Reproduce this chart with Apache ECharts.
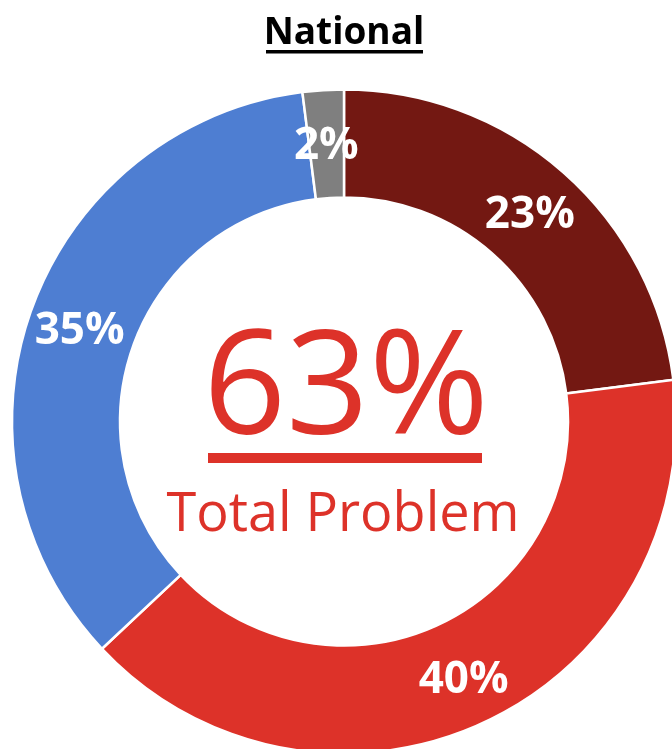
<!DOCTYPE html>
<html>
<head>
<meta charset="utf-8">
<script src="https://cdn.jsdelivr.net/npm/echarts@6/dist/echarts.min.js"></script>
<style>
  html, body { margin: 0; padding: 0; background: #ffffff; }
  #chart { width: 672px; height: 749px; }
</style>
</head>
<body>
<div id="chart"></div>
<script>
// Share of responses, clockwise from 12 o'clock
const segmentNames = ['Major problem', 'Minor problem', 'Not a problem', "Don't know"];
const segmentValues = [23, 40, 35, 2];
const segmentColors = ['#731812', '#DD3229', '#4E7ED2', '#7F7F7F'];

const chartTitle = 'National';
const totalValue = segmentValues[0] + segmentValues[1]; // 63
const totalCaption = 'Total Problem';

const FONT = '"Open Sans", "Noto Sans", sans-serif';
const cx = 344, cy = 421.5;

const chart = echarts.init(document.getElementById('chart'), null, { renderer: 'canvas' });

chart.setOption({
  backgroundColor: '#ffffff',
  animation: false,
  series: [{
    type: 'pie',
    center: [cx, cy],
    radius: [224, 332],
    startAngle: 90,
    clockwise: true,
    avoidLabelOverlap: false,
    itemStyle: { borderColor: '#ffffff', borderWidth: 2.5 },
    label: {
      show: true,
      position: 'inside',
      formatter: '{c}%',
      color: '#ffffff',
      fontFamily: FONT,
      fontWeight: 'bold',
      fontSize: 44,
      offset: [0, 5]
    },
    labelLine: { show: false },
    emphasis: { disabled: true },
    data: segmentNames.map((n, i) => ({
      name: n,
      value: segmentValues[i],
      itemStyle: { color: segmentColors[i] }
    }))
  }],
  graphic: [
    {
      type: 'text',
      style: {
        text: chartTitle,
        x: 344, y: 33,
        align: 'center', verticalAlign: 'middle',
        font: 'bold 37px ' + FONT,
        fill: '#000000'
      }
    },
    { type: 'rect', shape: { x: 266, y: 50, width: 157, height: 3.5 }, style: { fill: '#000000' } },
    {
      type: 'text',
      style: {
        text: totalValue + '%',
        x: 346, y: 393,
        align: 'center', verticalAlign: 'middle',
        font: '145px ' + FONT,
        fill: '#DD3229'
      }
    },
    { type: 'rect', shape: { x: 208, y: 453, width: 274, height: 10 }, style: { fill: '#DD3229' } },
    {
      type: 'text',
      style: {
        text: totalCaption,
        x: 343, y: 516,
        align: 'center', verticalAlign: 'middle',
        font: '54px ' + FONT,
        fill: '#DD3229'
      }
    }
  ]
});
</script>
</body>
</html>
